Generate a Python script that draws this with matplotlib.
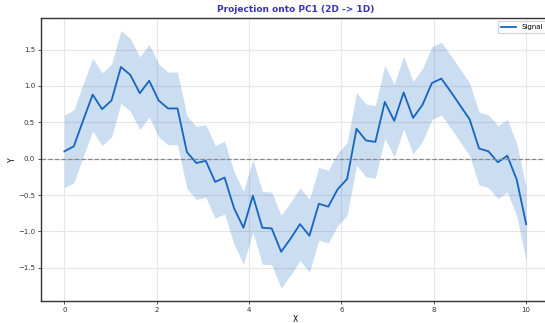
import numpy as np
import matplotlib
matplotlib.use("Agg")
import matplotlib.pyplot as plt

# Projected signal sampled at 50 evenly spaced points on [0, 10]
x_start, x_stop, n_points = 0.0, 10.0, 50
signal = [
    0.10, 0.17, 0.53, 0.88, 0.68, 0.80, 1.26, 1.15, 0.90, 1.07,
    0.80, 0.69, 0.69, 0.09, -0.06, -0.03, -0.32, -0.26, -0.68, -0.95,
    -0.51, -0.95, -0.96, -1.28, -1.10, -0.90, -1.06, -0.62, -0.66, -0.42,
    -0.28, 0.41, 0.25, 0.23, 0.78, 0.52, 0.91, 0.56, 0.74, 1.04,
    1.10, 0.92, 0.73, 0.54, 0.14, 0.10, -0.05, 0.04, -0.29, -0.90,
]
band_half_width = 0.5

x = np.linspace(x_start, x_stop, n_points)
y = np.array(signal)

fig = plt.figure(figsize=(5.45, 3.23), dpi=100)
ax = fig.add_axes([0.0758, 0.0681, 0.932, 0.877])

line_color = "#1565C0"
ax.fill_between(x, y - band_half_width, y + band_half_width,
                color=line_color, alpha=0.22, linewidth=0)
ax.plot(x, y, color=line_color, linewidth=1.3, label="Signal")
ax.axhline(0, color="#888888", linestyle="--", linewidth=0.9)

ax.set_xlim(-0.5, 10.5)
ax.set_xticks([0, 2, 4, 6, 8, 10])
ax.set_yticks([-1.5, -1.0, -0.5, 0.0, 0.5, 1.0, 1.5])
ax.grid(True, color="#e6e6e6", linewidth=0.8)
ax.set_axisbelow(True)

for side in ax.spines.values():
    side.set_color("#333333")
    side.set_linewidth(1.0)

ax.tick_params(labelsize=5, length=2.5, width=0.6, colors="#333333", pad=2)
ax.set_xlabel("X", fontsize=5.5, labelpad=1)
ax.set_ylabel("Y", fontsize=5.5, labelpad=0.5)
ax.set_title("Projection onto PC1 (2D -> 1D)", fontsize=6.5,
             fontweight="bold", color="#3535b5", pad=4)
ax.legend(loc="upper right", fontsize=5, frameon=True, fancybox=False,
          edgecolor="#cccccc", handlelength=2.2)

fig.savefig("out.png", dpi=100)
